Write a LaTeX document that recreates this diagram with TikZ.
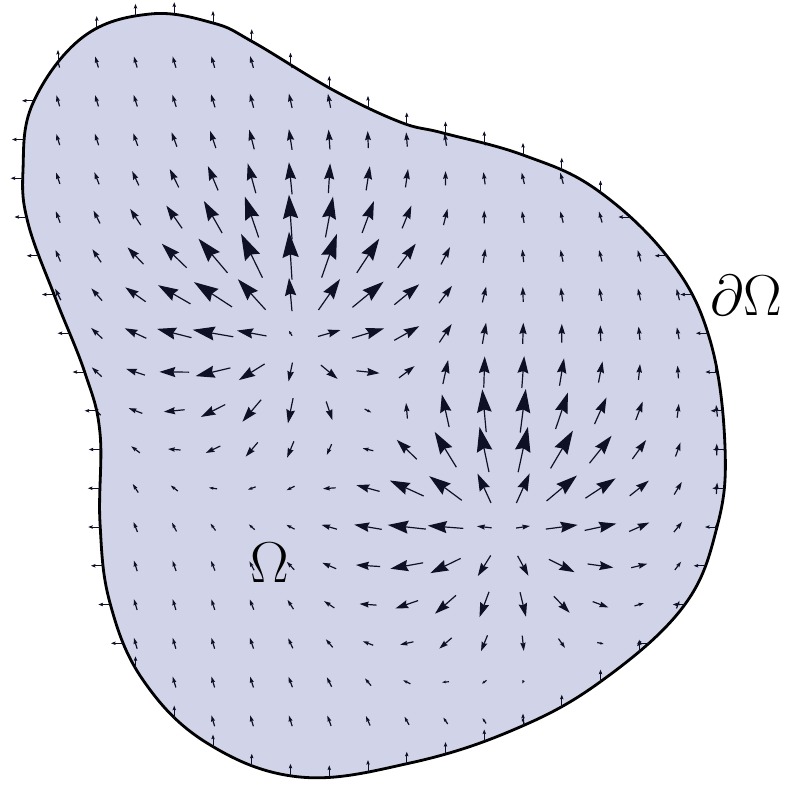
\documentclass[tikz,border=0pt]{standalone}
\usepackage{tikz}
\usetikzlibrary{arrows.meta,intersections}
\definecolor{BlobFill}{HTML}{D1D3E8}
\definecolor{FieldInk}{HTML}{0E1026}
% outline of the domain, in pixel units
\newcommand\blobshape{plot[smooth cycle, tension=0.65] coordinates {
  (150,14) (213,23) (253,42) (333,90) (400,122) (443,133) (523,155) (597,190)
  (670,260) (710,340) (725,447) (717,527) (683,607) (600,682) (513,730)
  (410,763) (300,777) (207,743) (143,680) (110,603) (100,523) (100,433)
  (85,373) (55,297) (28,223) (23,170) (33,103) (83,37)}}
\begin{document}
\begin{tikzpicture}[x=0.025cm, y=-0.025cm,
    fieldarrow/.style={draw=FieldInk, line width=0.85pt},
    bdtick/.style={draw=FieldInk, line width=0.55pt, -{Stealth[length=3.2pt,width=2.4pt,inset=0.5pt]}},
    domlabel/.style={font=\Huge, scale=1.65, inner sep=0pt}]
  \useasboundingbox (0,0) rectangle (800,784);
  \fill[BlobFill, name path=blob] \blobshape;

  % vector field: two sources plus a weak drift
  \begin{scope}
    \clip \blobshape;
    \foreach \i in {0,...,17}{
      \foreach \j in {0,...,17}{
        \pgfmathsetmacro\px{58+38.75*\i}
        \pgfmathsetmacro\py{62+38.75*\j}
        \pgfmathsetmacro\ax{(\px-290)/38.75}
        \pgfmathsetmacro\ay{(\py-325)/38.75}
        \pgfmathsetmacro\ea{30*exp(-min((\ax*\ax+\ay*\ay)/8.5,9))}
        \pgfmathsetmacro\bx{(\px-500)/38.75}
        \pgfmathsetmacro\by{(\py-515)/38.75}
        \pgfmathsetmacro\eb{30*exp(-min((\bx*\bx+\by*\by)/8.5,9))}
        \pgfmathsetmacro\vx{-3.2+\ax*\ea+\bx*\eb}
        \pgfmathsetmacro\vy{-11+\ay*\ea+\by*\eb}
        \pgfmathsetmacro\vl{sqrt(\vx*\vx+\vy*\vy)}
        \pgfmathsetmacro\hl{max(0.38*\vl,2.2)}
        \pgfmathsetmacro\hw{max(0.24*\vl,1.7)}
        \pgfmathsetmacro\hi{0.12*\hl}
        \pgfmathsetmacro\xa{\px-0.5*(\vx)}
        \pgfmathsetmacro\ya{\py-0.5*(\vy)}
        \pgfmathsetmacro\xb{\px+0.5*(\vx)}
        \pgfmathsetmacro\yb{\py+0.5*(\vy)}
        \ifdim\vl pt>2pt
          \draw[fieldarrow, -{Stealth[length=\hl pt, width=\hw pt, inset=\hi pt]}] (\xa,\ya) -- (\xb,\yb);
        \fi
      }
    }
  \end{scope}
  \draw[line width=2pt] \blobshape;

  % ticks on the boundary
  \foreach \j in {1,2,3}{
    \path[name path=hline] (0,{62+38.75*\j}) -- (200,{62+38.75*\j});
    \path[name intersections={of=blob and hline, name=h, total=\t}]
      \foreach \k in {1,...,\t}{(h-\k) edge[bdtick] ++(-12,0)};
  }
  \foreach \j in {4,...,15}{
    \path[name path=hline] (0,{62+38.75*\j}) -- (800,{62+38.75*\j});
    \path[name intersections={of=blob and hline, name=h, total=\t}]
      \foreach \k in {1,...,\t}{(h-\k) edge[bdtick] ++(-12,0)};
  }
  \foreach \i in {0,1}{
    \path[name path=vline] ({58+38.75*\i},0) -- ({58+38.75*\i},150);
    \path[name intersections={of=blob and vline, name=v, total=\t}]
      \foreach \k in {1,...,\t}{(v-\k) edge[bdtick] ++(0,-12)};
  }
  \foreach \i in {2,...,14}{
    \path[name path=vline] ({58+38.75*\i},0) -- ({58+38.75*\i},784);
    \path[name intersections={of=blob and vline, name=v, total=\t}]
      \foreach \k in {1,...,\t}{(v-\k) edge[bdtick] ++(0,-12)};
  }
  \path[name path=vline] ({58+38.75*15},400) -- ({58+38.75*15},784);
  \path[name intersections={of=blob and vline, name=v, total=\t}]
    \foreach \k in {1,...,\t}{(v-\k) edge[bdtick] ++(0,-12)};

  \node[domlabel] (omega) at (270,563) {$\Omega$};
  \node[domlabel] (bdry) at (746,295) {$\partial\Omega$};
\end{tikzpicture}
\end{document}
